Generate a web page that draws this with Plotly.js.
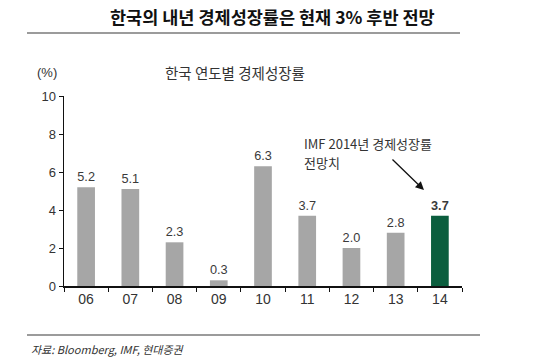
<!DOCTYPE html>
<html><head><meta charset="utf-8">
<script src="https://cdn.plot.ly/plotly-3.0.1.min.js"></script>
<style>html,body{margin:0;padding:0;background:#fff}</style>
</head><body><div id="chart" style="width:545px;height:358px"></div>
<script>
const years = ['06','07','08','09','10','11','12','13','14'];
const growth = [5.2, 5.1, 2.3, 0.3, 6.3, 3.7, 2.0, 2.8, 3.7];
const labels = ['5.2','5.1','2.3','0.3','6.3','3.7','2.0','2.8','<b>3.7</b>'];
const barColors = ['#a6a6a6','#a6a6a6','#a6a6a6','#a6a6a6','#a6a6a6','#a6a6a6','#a6a6a6','#a6a6a6','#0b5e3e'];
const yTicks = [0,2,4,6,8,10];

const KR = '"Noto Sans CJK KR", "Noto Sans", sans-serif';
const NUM = '"Liberation Sans", Arial, sans-serif';

const trace = {
  type:'bar', x: years, y: growth, width: 0.4,
  marker:{color: barColors},
  text: labels, textposition:'outside', cliponaxis:false,
  textfont:{family: NUM, size:13, color:'#3a3a3a'},
  hoverinfo:'none'
};

const layout = {
  width:545, height:358,
  margin:{l:64, r:83, t:96, b:72},
  paper_bgcolor:'#fff', plot_bgcolor:'#fff',
  showlegend:false,
  bargap:0.6,
  xaxis:{type:'category', showline:true, linecolor:'#111', linewidth:1.5,
    ticks:'outside', tickson:'boundaries', ticklen:4, tickcolor:'#111', tickwidth:1,
    tickfont:{family:NUM, size:14, color:'#333'}, showgrid:false, zeroline:false},
  yaxis:{range:[0,10], tickvals:yTicks, showline:true, linecolor:'#111', linewidth:1.5,
    ticks:'outside', ticklen:4, tickcolor:'#111', tickwidth:1,
    tickfont:{family:NUM, size:13, color:'#333'}, showgrid:false, zeroline:false},
  shapes:[
    {type:'line', xref:'paper', yref:'paper', x0:(27-64)/398, x1:(460-64)/398, y0:(286-33)/190, y1:(286-33)/190, line:{color:'#7a7a7a', width:1.5}},
    {type:'line', xref:'paper', yref:'paper', x0:(27-64)/398, x1:(480-64)/398, y0:(286-335)/190, y1:(286-335)/190, line:{color:'#7a7a7a', width:1.5}}
  ],
  annotations:[
    {xref:'paper', yref:'paper', x:(272-64)/398, y:(286-16)/190, text:'<b>한국의 내년 경제성장률은 현재 3% 후반 전망</b>', showarrow:false, xanchor:'center', yanchor:'middle', font:{family:KR, size:17.5, color:'#111'}},
    {xref:'paper', yref:'paper', x:(47-64)/398, y:(286-72)/190, text:'(%)', showarrow:false, xanchor:'center', yanchor:'middle', font:{family:NUM, size:13, color:'#333'}},
    {xref:'paper', yref:'paper', x:(235-64)/398, y:(286-72)/190, text:'한국 연도별 경제성장률', showarrow:false, xanchor:'center', yanchor:'middle', font:{family:KR, size:14.5, color:'#333'}},
    {xref:'paper', yref:'paper', x:(302-64)/398, y:(286-143)/190, text:'IMF 2014년 경제성장률', showarrow:false, xanchor:'left', yanchor:'middle', font:{family:KR, size:13, color:'#333'}},
    {xref:'paper', yref:'paper', x:(302-64)/398, y:(286-162)/190, text:'전망치', showarrow:false, xanchor:'left', yanchor:'middle', font:{family:KR, size:13, color:'#333'}},
    {xref:'x', yref:'y', x:7.64, y:5.05, ax:-33, ay:-32, axref:'pixel', ayref:'pixel', text:'', showarrow:true, arrowhead:2, arrowsize:1.3, arrowwidth:1.3, arrowcolor:'#111'},
    {xref:'paper', yref:'paper', x:(29-64)/398, y:(286-349)/190, text:'<i>자료: Bloomberg, IMF, 현대증권</i>', showarrow:false, xanchor:'left', yanchor:'middle', font:{family:KR, size:11, color:'#333'}}
  ]
};

Plotly.newPlot('chart', [trace], layout, {displayModeBar:false, staticPlot:true});
</script></body></html>
